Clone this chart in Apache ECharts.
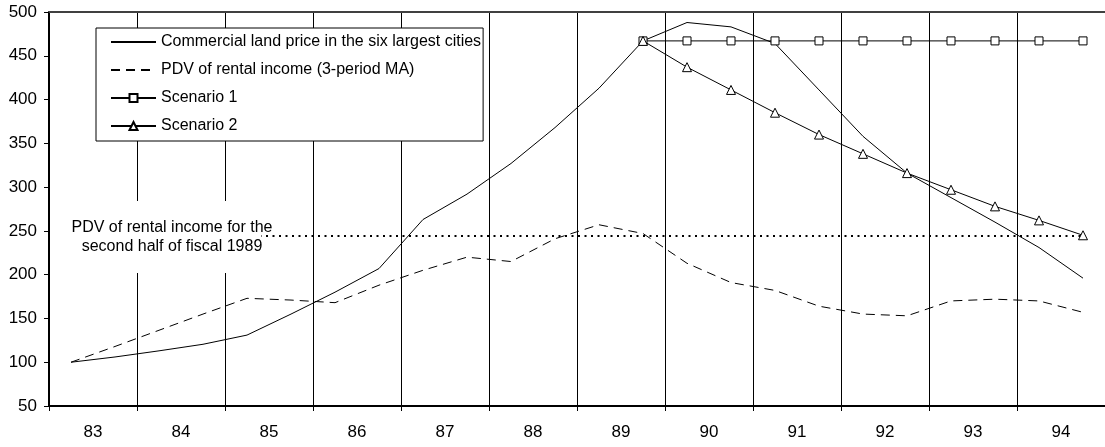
<!DOCTYPE html>
<html>
<head>
<meta charset="utf-8">
<script src="https://cdn.jsdelivr.net/npm/echarts@6/dist/echarts.min.js"></script>
<style>
html, body {margin: 0; padding: 0; background: #fff;}
#chart {width: 1105px; height: 447px;}
</style>
</head>
<body>
<div id="chart"></div>
<script>
var years = ['83', '84', '85', '86', '87', '88', '89', '90', '91', '92', '93', '94'];
var halfYears = ['83H1', '83H2', '84H1', '84H2', '85H1', '85H2', '86H1', '86H2',
    '87H1', '87H2', '88H1', '88H2', '89H1', '89H2', '90H1', '90H2',
    '91H1', '91H2', '92H1', '92H2', '93H1', '93H2', '94H1', '94H2'];

// commercial land price, six largest cities
var landPrice = [100, 106, 113, 120.5, 131, 155, 180, 207, 263, 292, 327, 368,
    413, 467, 488, 483, 464, 411, 358, 316, 288, 260, 231, 196];
// PDV of rental income, 3-period MA
var rentalPdv = [100, 118, 136.5, 155, 173, 171, 168, 188, 205, 220, 215, 241,
    257, 247, 213, 191, 182, 164, 155, 153, 170, 172, 170, 157];
var scenario1 = [null, null, null, null, null, null, null, null, null, null, null, null, null,
    467, 467, 467, 467, 467, 467, 467, 467, 467, 467, 467];
var scenario2 = [null, null, null, null, null, null, null, null, null, null, null, null, null,
    467, 437, 411, 385, 360, 338, 316, 297, 278, 262, 245];
var pdvSecondHalf1989 = 245;

var font = '"Liberation Sans", Arial, sans-serif';
var noMarker = {color: 'rgba(0,0,0,0)', borderColor: 'rgba(0,0,0,0)', borderWidth: 0};

var myChart = echarts.init(document.getElementById('chart'));
var option = {
    animation: false,
    backgroundColor: '#fff',
    textStyle: {fontFamily: font},
    grid: {left: 49, right: -8, top: 12, bottom: 41},
    legend: {
        orient: 'vertical',
        left: 96,
        top: 28,
        padding: [6, 2, 7, 14],
        itemWidth: 45,
        itemHeight: 10,
        itemGap: 12,
        backgroundColor: '#fff',
        borderColor: '#000',
        borderWidth: 1,
        borderRadius: 0,
        textStyle: {fontSize: 16, color: '#000', fontFamily: font},
        data: [
            {name: 'Commercial land price in the six largest cities', itemStyle: noMarker},
            {name: 'PDV of rental income (3-period MA)', itemStyle: noMarker,
                lineStyle: {width: 2, type: [9, 6]}},
            {name: 'Scenario 1'},
            {name: 'Scenario 2'}
        ]
    },
    xAxis: [
        {
            type: 'category',
            data: years,
            position: 'bottom',
            boundaryGap: true,
            axisLine: {onZero: false, lineStyle: {color: '#000', width: 2}},
            axisTick: {show: true, length: 5, lineStyle: {color: '#000', width: 1}},
            axisLabel: {color: '#000', fontSize: 17, margin: 18, fontFamily: font},
            splitLine: {show: true, lineStyle: {color: '#000', width: 1}}
        },
        {
            type: 'category',
            data: halfYears,
            position: 'top',
            boundaryGap: true,
            axisLine: {onZero: false, lineStyle: {color: '#404040', width: 2}},
            axisTick: {show: false},
            axisLabel: {show: false},
            splitLine: {show: false}
        }
    ],
    yAxis: {
        type: 'value',
        min: 50,
        max: 500,
        interval: 50,
        axisLine: {show: true, lineStyle: {color: '#000', width: 2}},
        axisTick: {show: true, length: 5, lineStyle: {color: '#000', width: 1}},
        axisLabel: {color: '#000', fontSize: 17, margin: 12, fontFamily: font},
        splitLine: {show: false}
    },
    series: [
        {
            name: 'Commercial land price in the six largest cities',
            type: 'line',
            xAxisIndex: 1,
            data: landPrice,
            symbol: 'none',
            lineStyle: {color: '#000', width: 1},
            itemStyle: {color: '#000'},
            z: 3
        },
        {
            name: 'PDV of rental income (3-period MA)',
            type: 'line',
            xAxisIndex: 1,
            data: rentalPdv,
            symbol: 'none',
            lineStyle: {color: '#000', width: 1, type: [9, 6]},
            itemStyle: {color: '#000'},
            markLine: {
                silent: true,
                symbol: 'none',
                label: {show: false},
                lineStyle: {color: '#000', width: 2, type: [2, 4.5]},
                data: [[
                    {coord: [halfYears[0], pdvSecondHalf1989]},
                    {coord: [halfYears[halfYears.length - 1], pdvSecondHalf1989]}
                ]]
            },
            z: 2
        },
        {
            name: 'Scenario 1',
            type: 'line',
            xAxisIndex: 1,
            data: scenario1,
            symbol: 'rect',
            symbolSize: 8,
            showAllSymbol: true,
            lineStyle: {color: '#000', width: 1},
            itemStyle: {color: '#fff', borderColor: '#000', borderWidth: 1},
            z: 4
        },
        {
            name: 'Scenario 2',
            type: 'line',
            xAxisIndex: 1,
            data: scenario2,
            symbol: 'triangle',
            symbolSize: 9,
            showAllSymbol: true,
            lineStyle: {color: '#000', width: 1},
            itemStyle: {color: '#fff', borderColor: '#000', borderWidth: 1},
            z: 5
        }
    ],
    graphic: [
        {
            type: 'rect',
            shape: {x: 50, y: 201, width: 211, height: 72},
            style: {fill: '#fff'},
            silent: true,
            z: 100
        },
        {
            type: 'text',
            x: 172,
            y: 237,
            silent: true,
            z: 101,
            style: {
                text: 'PDV of rental income for the\nsecond half of fiscal 1989',
                fill: '#000',
                font: '16px ' + font,
                textAlign: 'center',
                textVerticalAlign: 'middle',
                align: 'center',
                verticalAlign: 'middle',
                lineHeight: 19
            }
        }
    ]
};

myChart.setOption(option);
</script>
</body>
</html>
